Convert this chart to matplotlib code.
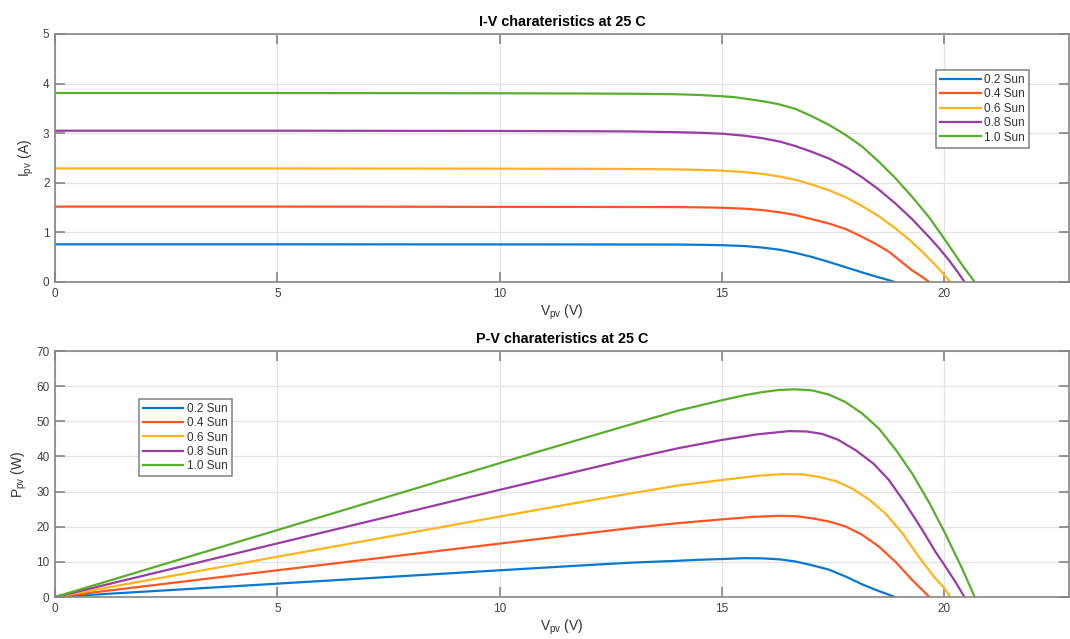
import numpy as np
import matplotlib
matplotlib.use("Agg")
import matplotlib.pyplot as plt

plt.rcParams['font.family'] = ['Liberation Sans', 'DejaVu Sans']
plt.rcParams['mathtext.fontset'] = 'custom'
plt.rcParams['mathtext.rm'] = 'Liberation Sans'

######################################
## data ##############################
######################################
labels = ["0.2 Sun", "0.4 Sun", "0.6 Sun", "0.8 Sun", "1.0 Sun"]
colors = ["#0A78CF", "#FF5522", "#FFB41C", "#9A3CA5", "#5AAE2E"]

# I-V curves (V in volts, I in amps)
v_iv_02 = [0, 5, 10, 12, 13, 14.0, 14.5, 15.0, 15.5, 15.9, 16.3, 16.65, 17.0, 17.4, 17.7, 18.0, 18.25, 18.5, 18.7, 18.88]
i_iv_02 = [0.76, 0.76, 0.758, 0.757, 0.756, 0.755, 0.75, 0.742, 0.725, 0.695, 0.65, 0.587, 0.51, 0.405, 0.32, 0.236, 0.165, 0.10, 0.05, 0.0]

v_iv_04 = [0, 5, 10, 12, 13, 14.0, 14.5, 15.0, 15.5, 15.9, 16.3, 16.65, 17.0, 17.4, 17.8, 18.15, 18.45, 18.75, 19.0, 19.27, 19.47, 19.66]
i_iv_04 = [1.52, 1.52, 1.515, 1.514, 1.512, 1.51, 1.505, 1.497, 1.478, 1.45, 1.405, 1.35, 1.27, 1.18, 1.06, 0.91, 0.77, 0.61, 0.43, 0.236, 0.12, 0.0]

v_iv_06 = [0, 5, 10, 12, 13, 14.0, 14.5, 15.0, 15.5, 15.9, 16.3, 16.65, 17.0, 17.4, 17.8, 18.15, 18.5, 18.9, 19.2, 19.5, 19.7, 19.87, 20.0, 20.13]
i_iv_06 = [2.29, 2.29, 2.285, 2.282, 2.278, 2.27, 2.26, 2.245, 2.215, 2.18, 2.125, 2.06, 1.97, 1.85, 1.70, 1.53, 1.34, 1.08, 0.86, 0.61, 0.43, 0.27, 0.14, 0.0]

v_iv_08 = [0, 5, 10, 12, 13, 14.0, 14.5, 15.0, 15.5, 15.9, 16.3, 16.65, 17.0, 17.4, 17.8, 18.15, 18.5, 18.9, 19.27, 19.65, 19.9, 20.1, 20.3, 20.45]
i_iv_08 = [3.05, 3.05, 3.045, 3.04, 3.035, 3.02, 3.008, 2.99, 2.95, 2.90, 2.83, 2.74, 2.63, 2.49, 2.31, 2.11, 1.88, 1.58, 1.27, 0.91, 0.66, 0.44, 0.20, 0.0]

v_iv_10 = [0, 5, 10, 12, 13, 14.0, 14.5, 15.0, 15.3, 15.6, 15.95, 16.27, 16.65, 17.02, 17.4, 17.77, 18.15, 18.52, 18.9, 19.27, 19.65, 20.02, 20.4, 20.68]
i_iv_10 = [3.81, 3.81, 3.805, 3.80, 3.795, 3.785, 3.77, 3.745, 3.725, 3.685, 3.64, 3.585, 3.49, 3.34, 3.17, 2.97, 2.73, 2.43, 2.09, 1.72, 1.31, 0.84, 0.34, 0.0]

# P-V curves (V in volts, P in watts)
v_pv_02 = [0, 5, 10, 12, 13, 14.0, 14.5, 15.0, 15.5, 15.9, 16.3, 16.65, 17.0, 17.4, 17.8, 18.15, 18.5, 18.7, 18.88]
p_pv_02 = [0, 3.8, 7.6, 9.1, 9.8, 10.3, 10.6, 10.8, 11.05, 11.0, 10.7, 10.1, 9.1, 7.8, 5.7, 3.6, 1.8, 0.9, 0]

v_pv_04 = [0, 5, 10, 12, 13, 14.0, 15.0, 15.7, 16.27, 16.65, 17.02, 17.4, 17.77, 18.15, 18.52, 18.9, 19.27, 19.47, 19.66]
p_pv_04 = [0, 7.6, 15.2, 18.2, 19.7, 21.0, 22.1, 22.8, 23.1, 23.0, 22.4, 21.5, 20.1, 17.7, 14.4, 10.0, 4.9, 2.4, 0]

v_pv_06 = [0, 5, 10, 12, 13, 14.0, 15.0, 15.8, 16.42, 16.8, 17.17, 17.55, 17.92, 18.3, 18.67, 19.05, 19.42, 19.8, 20.0, 20.13]
p_pv_06 = [0, 11.45, 22.9, 27.4, 29.6, 31.7, 33.3, 34.5, 35.0, 34.9, 34.2, 33.0, 30.9, 27.8, 23.8, 18.2, 11.5, 5.2, 2.5, 0]

v_pv_08 = [0, 5, 10, 12, 13, 14.0, 15.0, 15.8, 16.5, 16.9, 17.25, 17.6, 18.0, 18.4, 18.75, 19.1, 19.5, 19.8, 20.02, 20.25, 20.45]
p_pv_08 = [0, 15.25, 30.5, 36.5, 39.5, 42.3, 44.7, 46.3, 47.2, 47.1, 46.4, 44.8, 41.8, 38.0, 33.3, 27.0, 19.1, 12.8, 8.7, 4.2, 0]

v_pv_10 = [0, 5, 10, 12, 13, 14.0, 15.0, 15.5, 15.9, 16.27, 16.65, 17.02, 17.4, 17.77, 18.15, 18.52, 18.9, 19.27, 19.65, 20.02, 20.4, 20.68]
p_pv_10 = [0, 19.05, 38.1, 45.6, 49.3, 53.0, 56.0, 57.4, 58.3, 58.9, 59.1, 58.8, 57.6, 55.5, 52.2, 48.0, 42.0, 35.2, 27.0, 18.0, 8.0, 0]

iv_v = [v_iv_02, v_iv_04, v_iv_06, v_iv_08, v_iv_10]
iv_i = [i_iv_02, i_iv_04, i_iv_06, i_iv_08, i_iv_10]
pv_v = [v_pv_02, v_pv_04, v_pv_06, v_pv_08, v_pv_10]
pv_p = [p_pv_02, p_pv_04, p_pv_06, p_pv_08, p_pv_10]

x_max = 22.8
x_ticks = [0, 5, 10, 15, 20]


######################################
## matlab-ish styling ################
######################################
def styleAxes(ax, y_max, y_ticks):
    ax.set_xlim(0, x_max)
    ax.set_ylim(0, y_max)
    ax.set_xticks(x_ticks)
    ax.set_yticks(y_ticks)
    ax.grid(True, color="#E3E3E3", linewidth=0.9)
    ax.set_axisbelow(True)
    for sp in ax.spines.values():
        sp.set_color("#858585")
        sp.set_linewidth(1.2)
    ax.tick_params(direction="in", length=7, width=1.2, color="#858585",
                   top=True, right=True, labelsize=8.5, labelcolor="#404040", pad=4)


def makeLegend(ax, loc, anchor):
    leg = ax.legend(loc=loc, bbox_to_anchor=anchor, fontsize=8.5, frameon=True,
                    fancybox=False, framealpha=1, edgecolor="#808080",
                    handlelength=3.4, handletextpad=0.3, labelspacing=0.2,
                    borderpad=0.35, borderaxespad=0)
    leg.get_frame().set_linewidth(1.1)
    for t in leg.get_texts():
        t.set_color("#333333")
    return leg


fig = plt.figure(figsize=(10.70, 6.39), dpi=100)
ax1 = fig.add_axes([55 / 1070, 1 - 282 / 639, 1014 / 1070, 248 / 639])
ax2 = fig.add_axes([55 / 1070, 1 - 597 / 639, 1014 / 1070, 246 / 639])

# I-V
for v, i, c, lab in zip(iv_v, iv_i, colors, labels):
    ax1.plot(v, i, color=c, linewidth=1.6, label=lab)
styleAxes(ax1, 5, [0, 1, 2, 3, 4, 5])
ax1.set_title("I-V charateristics at 25 C", fontsize=10.4, fontweight="bold", pad=6)
ax1.set_xlabel(r"V$_{\rm pv}$ (V)", fontsize=10, color="#333333", labelpad=2)
ax1.set_ylabel(r"I$_{\rm pv}$ (A)", fontsize=10, color="#333333", labelpad=5)
makeLegend(ax1, "upper right", (0.9606, 0.855))

# P-V
for v, p, c, lab in zip(pv_v, pv_p, colors, labels):
    ax2.plot(v, p, color=c, linewidth=1.6, label=lab)
styleAxes(ax2, 70, [0, 10, 20, 30, 40, 50, 60, 70])
ax2.set_title("P-V charateristics at 25 C", fontsize=10.4, fontweight="bold", pad=6)
ax2.set_xlabel(r"V$_{\rm pv}$ (V)", fontsize=10, color="#333333", labelpad=2)
ax2.set_ylabel(r"P$_{\rm pv}$ (W)", fontsize=10, color="#333333", labelpad=5)
makeLegend(ax2, "upper left", (0.0828, 0.806))

fig.savefig("out.png", dpi=100)
